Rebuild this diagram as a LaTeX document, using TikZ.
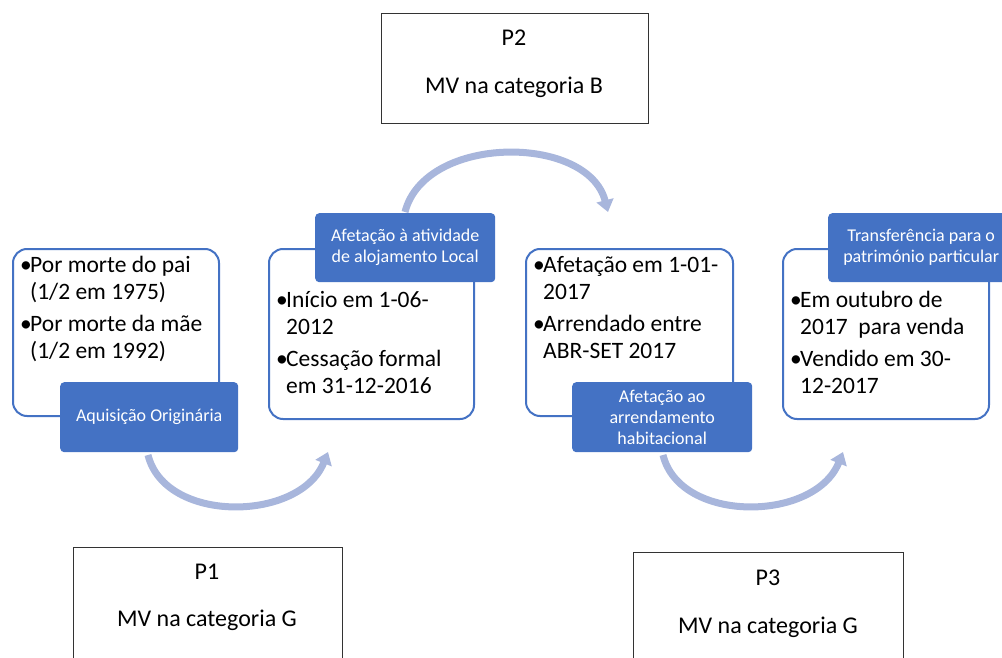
\documentclass[tikz,border=0pt]{standalone}
\usepackage{fontspec}
\setmainfont{Carlito}
\usetikzlibrary{arrows.meta}
\definecolor{accent}{RGB}{68,114,196}
\definecolor{arcc}{RGB}{168,182,220}
\newcommand{\itemfirst}[1]{\makebox[10pt][l]{•}#1}
\newcommand{\itemnext}[1]{\hspace*{10pt}#1}
\begin{document}
\begin{tikzpicture}[x=1pt,y=-1pt,
  card/.style={draw=accent, line width=2pt, fill=white, rounded corners=14pt,
    inner sep=0pt, anchor=north west},
  tag/.style={fill=accent, rounded corners=4pt, text=white, inner sep=0pt,
    anchor=north west},
  tagtext/.style={text=white, font=\fontsize{18}{21}\selectfont, align=center, inner sep=0pt},
  body/.style={anchor=north west, inner sep=0pt, align=left,
    font=\fontsize{23.5}{27}\selectfont},
  pbox/.style={draw=black!80, line width=0.9pt, fill=white, inner sep=0pt, anchor=north west},
  ptext/.style={font=\fontsize{24}{28}\selectfont, inner sep=0pt},
  flow/.style={draw=arcc, line width=7pt, -{Triangle[length=12pt,width=17pt]}}
]
\useasboundingbox (0,0) rectangle (1002,658);

% flow arcs
\coordinate (a1s) at (148,455); \coordinate (a1e) at (328,452);
\coordinate (a2s) at (405,212); \coordinate (a2e) at (608,212);
\coordinate (a3s) at (663,455); \coordinate (a3e) at (843,452);
\draw[flow] (a1s) .. controls (165,524) and (300,522) .. (a1e);
\draw[flow] (a2s) .. controls (425,134) and (588,134) .. (a2e);
\draw[flow] (a3s) .. controls (680,524) and (815,522) .. (a3e);

% cards
\node[card, minimum width=206pt, minimum height=167pt] (c1) at (12,248) {};
\node[card, minimum width=205pt, minimum height=170pt] (c2) at (268,248) {};
\node[card, minimum width=207pt, minimum height=167pt] (c3) at (525,248) {};
\node[card, minimum width=206pt, minimum height=170pt] (c4) at (782,248) {};

\node[body] (b1) at (20,256) {\itemfirst{Por morte do pai}\\ \itemnext{(1/2 em 1975)}\\[5pt]
  \itemfirst{Por morte da mãe}\\ \itemnext{(1/2 em 1992)}};
\node[body] (b2) at (276,291) {\itemfirst{Início em 1-06-}\\ \itemnext{2012}\\[5pt]
  \itemfirst{Cessação formal}\\ \itemnext{em 31-12-2016}};
\node[body] (b3) at (533,256) {\itemfirst{Afetação em 1-01-}\\ \itemnext{2017}\\[5pt]
  \itemfirst{Arrendado entre}\\ \itemnext{ABR-SET 2017}};
\node[body] (b4) at (790,291) {\itemfirst{Em outubro de}\\ \itemnext{2017\ \ para venda}\\[5pt]
  \itemfirst{Vendido em 30-}\\ \itemnext{12-2017}};

% tags
\node[tag, minimum width=178pt, minimum height=70pt] (t1) at (60,382) {};
\node[tagtext] at (t1.center) {Aquisição Originária};
\node[tag, minimum width=180pt, minimum height=69pt] (t2) at (315,213) {};
\node[tagtext] at (t2.center) {Afetação à atividade\\de alojamento Local};
\node[tag, minimum width=180pt, minimum height=70pt] (t3) at (572,382) {};
\node[tagtext] at (t3.center) {Afetação ao\\arrendamento\\habitacional};
\node[tag, minimum width=186pt, minimum height=69pt] (t4) at (828,213) {};
\node[tagtext] at ([xshift=0pt]t4.center) {Transferência para o\\património particular};

% period boxes
\node[pbox, minimum width=267pt, minimum height=110pt] (p2) at (381,13) {};
\node[ptext] (p2a) at (514,38) {P2};
\node[ptext] (p2b) at (514,87) {MV na categoria B};
\node[pbox, minimum width=269pt, minimum height=130pt] (p1) at (73,547) {};
\node[ptext] (p1a) at (207,572) {P1};
\node[ptext] (p1b) at (207,620) {MV na categoria G};
\node[pbox, minimum width=270pt, minimum height=130pt] (p3) at (633,552) {};
\node[ptext] (p3a) at (768,578) {P3};
\node[ptext] (p3b) at (768,627) {MV na categoria G};
\end{tikzpicture}
\end{document}
